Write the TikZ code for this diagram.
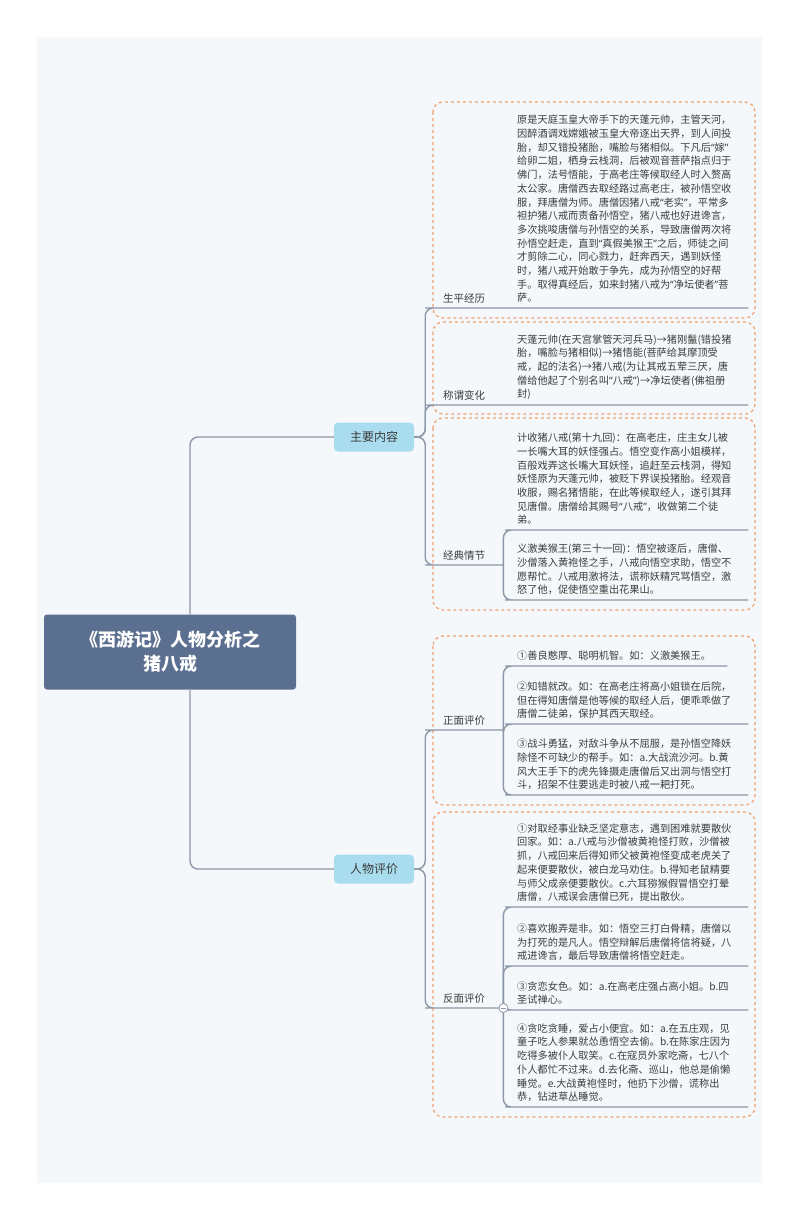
\documentclass[tikz,border=0pt]{standalone}
\usepackage{fontspec}
\setmainfont{Noto Sans CJK SC}
\newfontfamily\latinfont{Noto Sans}
\newcommand\qo{{\latinfont“}}
\newcommand\qc{{\latinfont”}}
\XeTeXlinebreaklocale "zh"
\XeTeXlinebreakskip=0pt plus 1pt
\definecolor{rootblue}{HTML}{5B6F91}
\definecolor{mainblue}{HTML}{A9DCEE}
\definecolor{linegrey}{HTML}{8C97A8}
\definecolor{dashorange}{HTML}{F0A06E}
\definecolor{txtgrey}{HTML}{3C3C3C}
\definecolor{panel}{HTML}{F5F8FB}
\tikzset{
    root/.style={fill=rootblue,rounded corners=3pt,minimum width=252pt,minimum height=75pt,
        align=center,text=white,font=\fontsize{18}{24}\selectfont\bfseries},
    mainnode/.style={fill=mainblue,rounded corners=4pt,minimum width=80pt,minimum height=29pt,
        text=txtgrey,font=\fontsize{12}{14}\selectfont},
    topic/.style={anchor=south west,inner xsep=18pt,inner ysep=4pt,text=txtgrey,
        font=\fontsize{10.5}{14.7}\selectfont},
    leaf/.style={anchor=south west,inner xsep=12pt,inner ysep=5pt,text width=219pt,align=left,
        text=txtgrey,font=\fontsize{10.2}{13.7}\selectfont},
    link/.style={draw=linegrey,line width=1.4pt,rounded corners=8pt},
    group/.style={draw=dashorange,line width=1.2pt,dashed,rounded corners=10pt}
}
\begin{document}
\begin{tikzpicture}[x=1pt,y=-1pt]
    \useasboundingbox[fill=white] (0,0) rectangle (800,1220);
    \fill[panel] (37,37) rectangle (762,1183);
    % dashed groups
    \draw[group] (433,102) rectangle (755,318);
    \draw[group] (433,322) rectangle (755,414);
    \draw[group] (433,418) rectangle (755,610);
    \draw[group] (433,636) rectangle (755,805);
    \draw[group] (433,812) rectangle (755,1117);
    % root and main topics
    \node[root] (root) at (170,652) {《西游记》人物分析之\\猪八戒};
    \node[mainnode] (content) at (374,437) {主要内容};
    \node[mainnode] (review) at (374,869) {人物评价};
    \draw[link] ([xshift=20pt]root.north) |- (content.west);
    \draw[link] ([xshift=20pt]root.south) |- (review.west);
    % main content
    \node[topic] (life) at (425,308) {生平经历};
    \node[leaf] (lifeA) at (505,308) {原是天庭玉皇大帝手下的天蓬元帅，主管天河，\\因醉酒调戏嫦娥被玉皇大帝逐出天界，到人间投\\胎，却又错投猪胎，嘴脸与猪相似。下凡后\qo 嫁\qc\\给卵二姐，栖身云栈洞，后被观音菩萨指点归于\\佛门，法号悟能，于高老庄等候取经人时入赘高\\太公家。唐僧西去取经路过高老庄，被孙悟空收\\服，拜唐僧为师。唐僧因猪八戒\qo 老实\qc ，平常多\\袒护猪八戒而责备孙悟空，猪八戒也好进谗言，\\多次挑唆唐僧与孙悟空的关系，导致唐僧两次将\\孙悟空赶走，直到\qo 真假美猴王\qc 之后，师徒之间\\才剪除二心，同心戮力，赶奔西天，遇到妖怪\\时，猪八戒开始敢于争先，成为孙悟空的好帮\\手。取得真经后，如来封猪八戒为\qo 净坛使者\qc 菩\\萨。};
    \node[topic] (names) at (425,405) {称谓变化};
    \node[leaf] (namesA) at (505,405) {天蓬元帅(在天宫掌管天河兵马)→猪刚鬣(错投猪\\胎，嘴脸与猪相似)→猪悟能(菩萨给其摩顶受\\戒，起的法名)→猪八戒(为让其戒五荤三厌，唐\\僧给他起了个别名叫\qo 八戒\qc )→净坛使者(佛祖册\\封)};
    \node[topic] (plot) at (425,565) {经典情节};
    \node[leaf] (plotA) at (505,530) {计收猪八戒(第十九回)：在高老庄，庄主女儿被\\一长嘴大耳的妖怪强占。悟空变作高小姐模样，\\百般戏弄这长嘴大耳妖怪，追赶至云栈洞，得知\\妖怪原为天蓬元帅，被贬下界误投猪胎。经观音\\收服，赐名猪悟能，在此等候取经人，遂引其拜\\见唐僧。唐僧给其赐号\qo 八戒\qc ，收做第二个徒\\弟。};
    \node[leaf] (plotB) at (505,600) {义激美猴王(第三十一回)：悟空被逐后，唐僧、\\沙僧落入黄袍怪之手，八戒向悟空求助，悟空不\\愿帮忙。八戒用激将法，谎称妖精咒骂悟空，激\\怒了他，促使悟空重出花果山。};
    \draw[link] (content.east) -- ++(11,0) |- ([xshift=8pt]life.south west) -- (lifeA.south east);
    \draw[link] (content.east) -- ++(11,0) |- ([xshift=8pt]names.south west) -- (namesA.south east);
    \draw[link] (content.east) -- ++(11,0) |- ([xshift=8pt]plot.south west) -- (plot.south east);
    \draw[link] (plot.south east) |- ([xshift=8pt]plotA.south west) -- (plotA.south east);
    \draw[link] (plot.south east) |- ([xshift=8pt]plotB.south west) -- (plotB.south east);
    % review
    \node[topic] (pos) at (425,730) {正面评价};
    \node[leaf,text width=198pt] (posA) at (505,666) {①善良憨厚、聪明机智。如：义激美猴王。};
    \node[leaf] (posB) at (505,724) {②知错就改。如：在高老庄将高小姐锁在后院，\\但在得知唐僧是他等候的取经人后，便乖乖做了\\唐僧二徒弟，保护其西天取经。};
    \node[leaf] (posC) at (505,795) {③战斗勇猛，对敌斗争从不屈服，是孙悟空降妖\\除怪不可缺少的帮手。如：a.大战流沙河。b.黄\\风大王手下的虎先锋摄走唐僧后又出洞与悟空打\\斗，招架不住要逃走时被八戒一耙打死。};
    \node[topic] (neg) at (425,1008) {反面评价};
    \node[leaf] (negA) at (505,907) {①对取经事业缺乏坚定意志，遇到困难就要散伙\\回家。如：a.八戒与沙僧被黄袍怪打败，沙僧被\\抓，八戒回来后得知师父被黄袍怪变成老虎关了\\起来便要散伙，被白龙马劝住。b.得知老鼠精要\\与师父成亲便要散伙。c.六耳猕猴假冒悟空打晕\\唐僧，八戒误会唐僧已死，提出散伙。};
    \node[leaf] (negB) at (505,966) {②喜欢搬弄是非。如：悟空三打白骨精，唐僧以\\为打死的是凡人。悟空辩解后唐僧将信将疑，八\\戒进谗言，最后导致唐僧将悟空赶走。};
    \node[leaf] (negC) at (505,1010) {③贪恋女色。如：a.在高老庄强占高小姐。b.四\\圣试禅心。};
    \node[leaf] (negD) at (505,1107) {④贪吃贪睡，爱占小便宜。如：a.在五庄观，见\\童子吃人参果就怂恿悟空去偷。b.在陈家庄因为\\吃得多被仆人取笑。c.在寇员外家吃斋，七八个\\仆人都忙不过来。d.去化斋、巡山，他总是偷懒\\睡觉。e.大战黄袍怪时，他扔下沙僧，谎称出\\恭，钻进草丛睡觉。};
    \draw[link] (review.east) -- ++(11,0) |- ([xshift=8pt]pos.south west) -- (pos.south east);
    \draw[link] (review.east) -- ++(11,0) |- ([xshift=8pt]neg.south west) -- (neg.south east);
    \foreach \lf in {posA,posB,posC} {
        \draw[link] (pos.south east) |- ([xshift=8pt]\lf.south west) -- (\lf.south east);
    }
    \foreach \lf in {negA,negB,negC,negD} {
        \draw[link] (neg.south east) |- ([xshift=8pt]\lf.south west) -- (\lf.south east);
    }
    \node[circle,draw=linegrey,fill=white,line width=0.8pt,inner sep=0pt,minimum size=9pt] (fold) at (neg.south east) {};
    \draw[linegrey,line width=0.8pt] ([xshift=-2.5pt]fold.center) -- ([xshift=2.5pt]fold.center);
\end{tikzpicture}
\end{document}
